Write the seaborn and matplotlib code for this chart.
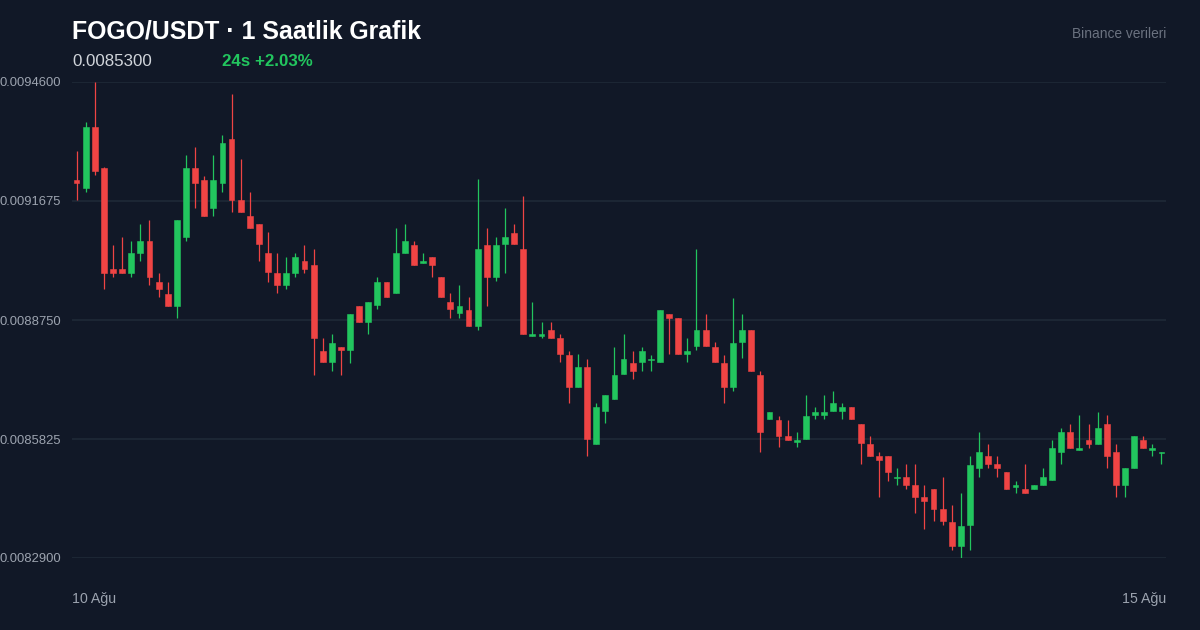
import numpy as np
import pandas as pd
import matplotlib
matplotlib.use("Agg")
import matplotlib.pyplot as plt
import seaborn as sns

# hourly candles (values in USDT)
opens = [
    0.0092191, 0.0092002, 0.0093501, 0.0092493, 0.0089996, 0.0089996, 0.0089913, 0.0090404, 0.0090699, 0.0089691,
    0.0089389, 0.0089101, 0.0090797, 0.0092493, 0.0092191, 0.0091510, 0.0092110, 0.0093199, 0.0091700, 0.0091306,
    0.0091102, 0.0090389, 0.0089898, 0.0089610, 0.0089913, 0.0090193, 0.0090095, 0.0087995, 0.0087710, 0.0088094,
    0.0088013, 0.0089101, 0.0088708, 0.0089111, 0.0089691, 0.0089406, 0.0090404, 0.0090593, 0.0090158, 0.0090299,
    0.0089800, 0.0089192, 0.0088915, 0.0088996, 0.0088610, 0.0090593, 0.0089807, 0.0090611, 0.0090896, 0.0090495,
    0.0088364, 0.0088364, 0.0088497, 0.0088300, 0.0087897, 0.0087110, 0.0087602, 0.0085709, 0.0086513, 0.0086808,
    0.0087415, 0.0087686, 0.0087710, 0.0087767, 0.0087710, 0.0088890, 0.0088792, 0.0087907, 0.0088111, 0.0088497,
    0.0088094, 0.0087686, 0.0087110, 0.0088209, 0.0088497, 0.0087398, 0.0086309, 0.0086292, 0.0085891, 0.0085759,
    0.0085818, 0.0086415, 0.0086415, 0.0086513, 0.0086513, 0.0086604, 0.0086201, 0.0085702, 0.0085400, 0.0085400,
    0.0084859, 0.0084898, 0.0084694, 0.0084399, 0.0084596, 0.0084097, 0.0083792, 0.0083202, 0.0083711, 0.0085105,
    0.0085407, 0.0085203, 0.0085006, 0.0084652, 0.0084596, 0.0084603, 0.0084702, 0.0084810, 0.0085505, 0.0085997,
    0.0085555, 0.0085800, 0.0085702, 0.0086194, 0.0085498, 0.0084702, 0.0085105, 0.0085800, 0.0085555, 0.0085473,
]
highs = [
    0.0092904, 0.0093609, 0.0094600, 0.0092500, 0.0090593, 0.0090797, 0.0090699, 0.0091102, 0.0091208, 0.0089898,
    0.0089691, 0.0091201, 0.0092806, 0.0093002, 0.0092297, 0.0092806, 0.0093297, 0.0094305, 0.0092707, 0.0091904,
    0.0091102, 0.0090906, 0.0090389, 0.0090299, 0.0090389, 0.0090593, 0.0090495, 0.0088300, 0.0088399, 0.0088094,
    0.0088897, 0.0089101, 0.0089192, 0.0089814, 0.0089691, 0.0091004, 0.0091102, 0.0090699, 0.0090389, 0.0090299,
    0.0089800, 0.0089406, 0.0089603, 0.0089308, 0.0092208, 0.0091004, 0.0090797, 0.0091496, 0.0091102, 0.0091798,
    0.0089192, 0.0088693, 0.0088693, 0.0088406, 0.0087995, 0.0087907, 0.0087791, 0.0086702, 0.0086899, 0.0088094,
    0.0088406, 0.0087995, 0.0088094, 0.0087897, 0.0088996, 0.0088890, 0.0088792, 0.0088300, 0.0090495, 0.0088890,
    0.0088202, 0.0087897, 0.0089298, 0.0088897, 0.0088497, 0.0087496, 0.0086496, 0.0086398, 0.0086292, 0.0086004,
    0.0086906, 0.0086604, 0.0086906, 0.0087005, 0.0086702, 0.0086604, 0.0086201, 0.0085899, 0.0085498, 0.0085400,
    0.0085105, 0.0085203, 0.0085203, 0.0084694, 0.0084596, 0.0084898, 0.0084203, 0.0084490, 0.0085400, 0.0085997,
    0.0085702, 0.0085407, 0.0085006, 0.0084800, 0.0085203, 0.0084694, 0.0085105, 0.0085800, 0.0086095, 0.0086194,
    0.0086408, 0.0086194, 0.0086496, 0.0086408, 0.0085702, 0.0085105, 0.0085899, 0.0085899, 0.0085702, 0.0085498,
]
lows = [
    0.0091700, 0.0091904, 0.0092314, 0.0089505, 0.0089800, 0.0089900, 0.0089800, 0.0090208, 0.0089610, 0.0089308,
    0.0089101, 0.0088806, 0.0090699, 0.0091510, 0.0091306, 0.0091306, 0.0091904, 0.0091412, 0.0091412, 0.0091004,
    0.0090208, 0.0089691, 0.0089406, 0.0089505, 0.0089814, 0.0089913, 0.0087398, 0.0087710, 0.0087504, 0.0087398,
    0.0087700, 0.0088708, 0.0088406, 0.0089013, 0.0089308, 0.0089406, 0.0090404, 0.0090109, 0.0090158, 0.0089814,
    0.0089308, 0.0088806, 0.0088806, 0.0088610, 0.0088504, 0.0089101, 0.0089709, 0.0089913, 0.0090611, 0.0088406,
    0.0088364, 0.0088315, 0.0088315, 0.0087710, 0.0086702, 0.0087110, 0.0085407, 0.0085709, 0.0086211, 0.0086808,
    0.0087415, 0.0087307, 0.0087504, 0.0087504, 0.0087710, 0.0087907, 0.0087907, 0.0087710, 0.0088013, 0.0088111,
    0.0087710, 0.0086702, 0.0087005, 0.0087809, 0.0087504, 0.0085513, 0.0086309, 0.0085621, 0.0085808, 0.0085621,
    0.0085818, 0.0086309, 0.0086309, 0.0086513, 0.0086309, 0.0086309, 0.0085203, 0.0085415, 0.0084407, 0.0084800,
    0.0084702, 0.0084603, 0.0083999, 0.0083605, 0.0083809, 0.0083704, 0.0083097, 0.0082900, 0.0083097, 0.0084898,
    0.0085105, 0.0084898, 0.0084603, 0.0084505, 0.0084505, 0.0084603, 0.0084702, 0.0084810, 0.0085203, 0.0085604,
    0.0085555, 0.0085604, 0.0085702, 0.0085105, 0.0084407, 0.0084407, 0.0085105, 0.0085604, 0.0085407, 0.0085203,
]
closes = [
    0.0092110, 0.0093501, 0.0092412, 0.0089913, 0.0089913, 0.0089913, 0.0090389, 0.0090699, 0.0089814, 0.0089512,
    0.0089101, 0.0091201, 0.0092493, 0.0092110, 0.0091306, 0.0092191, 0.0093093, 0.0091700, 0.0091412, 0.0091004,
    0.0090611, 0.0089922, 0.0089610, 0.0089898, 0.0090299, 0.0090011, 0.0088315, 0.0087710, 0.0088192, 0.0088013,
    0.0088897, 0.0088708, 0.0089192, 0.0089691, 0.0089308, 0.0090389, 0.0090692, 0.0090109, 0.0090200, 0.0090109,
    0.0089308, 0.0089013, 0.0089094, 0.0088610, 0.0090495, 0.0089807, 0.0090593, 0.0090797, 0.0090611, 0.0088406,
    0.0088406, 0.0088406, 0.0088315, 0.0087907, 0.0087110, 0.0087602, 0.0085818, 0.0086604, 0.0086899, 0.0087398,
    0.0087799, 0.0087504, 0.0087995, 0.0087799, 0.0088996, 0.0088806, 0.0087907, 0.0087988, 0.0088497, 0.0088111,
    0.0087710, 0.0087110, 0.0088192, 0.0088497, 0.0087504, 0.0086004, 0.0086496, 0.0085906, 0.0085808, 0.0085800,
    0.0086398, 0.0086496, 0.0086496, 0.0086702, 0.0086604, 0.0086309, 0.0085719, 0.0085415, 0.0085309, 0.0085021,
    0.0084898, 0.0084702, 0.0084407, 0.0084308, 0.0084104, 0.0083809, 0.0083202, 0.0083694, 0.0085193, 0.0085498,
    0.0085203, 0.0085105, 0.0084603, 0.0084694, 0.0084505, 0.0084694, 0.0084898, 0.0085596, 0.0085997, 0.0085604,
    0.0085596, 0.0085702, 0.0086095, 0.0085407, 0.0084702, 0.0085105, 0.0085899, 0.0085604, 0.0085596, 0.0085498,
]

y_ticks = [0.0082900, 0.0085825, 0.0088750, 0.0091675, 0.0094600]
x_labels = ["10 Ağu", "15 Ağu"]

title = "FOGO/USDT · 1 Saatlik Grafik"
last_price = "0.0085300"
change_text = "24s +2.03%"
source_text = "Binance verileri"

bg = "#111827"
grid_color = "#1f2937"
up_color = "#22c55e"
down_color = "#ef4444"

df = pd.DataFrame({"open": opens, "high": highs, "low": lows, "close": closes})
df["idx"] = np.arange(len(df))
df["color"] = np.where(df["close"] >= df["open"], up_color, down_color)
df["body_low"] = df[["open", "close"]].min(axis=1)
df["body_h"] = (df["open"] - df["close"]).abs()

sns.set_theme(style="dark", rc={
    "axes.facecolor": bg,
    "figure.facecolor": bg,
})
plt.rcParams["font.family"] = ["Liberation Sans", "DejaVu Sans"]

W, H = 1200, 630
fig = plt.figure(figsize=(W / 100, H / 100), dpi=100)
ax = fig.add_axes([72 / W, 1 - 558 / H, 1094 / W, 476 / H])
ax.set_facecolor(bg)

for v in y_ticks:
    ax.axhline(v, color=grid_color, lw=1.2, zorder=0)

# wicks then bodies
ax.vlines(df["idx"], df["low"], df["high"], colors=df["color"], lw=0.9, zorder=2)
ax.bar(df["idx"], df["body_h"], bottom=df["body_low"], width=0.64,
       color=df["color"], edgecolor=df["color"], linewidth=0.4, zorder=3)

ax.set_xlim(-0.5, len(df) - 0.5)
ax.set_ylim(y_ticks[0], y_ticks[-1])
ax.set_xticks([])
ax.set_yticks([])
ax.grid(False)
for s in ax.spines.values():
    s.set_visible(False)

def fx(px):
    return px / W

def fy(py):
    return 1 - py / H

tick_col = "#9ca3af"
for v in y_ticks:
    yp = 558 - (v - y_ticks[0]) / (y_ticks[-1] - y_ticks[0]) * 476
    fig.text(fx(61), fy(yp + 1.5), f"{v:.7f}", ha="right", va="center", color=tick_col, fontsize=9.4)

fig.text(fx(72), fy(599), x_labels[0], ha="left", va="center", color=tick_col, fontsize=10.2)
fig.text(fx(1166), fy(599), x_labels[1], ha="right", va="center", color=tick_col, fontsize=10.2)

fig.text(fx(72), fy(38.3), title, ha="left", va="baseline", color="white", fontsize=17.9, fontweight="bold")
fig.text(fx(72), fy(66), last_price, ha="left", va="baseline", color="#d1d5db", fontsize=12.2)
fig.text(fx(222), fy(66), change_text, ha="left", va="baseline", color=up_color, fontsize=12.2, fontweight="bold")
fig.text(fx(1166), fy(38.3), source_text, ha="right", va="baseline", color="#6b7280", fontsize=9.9)

fig.savefig("out.png", dpi=100, facecolor=bg)
plt.close(fig)
